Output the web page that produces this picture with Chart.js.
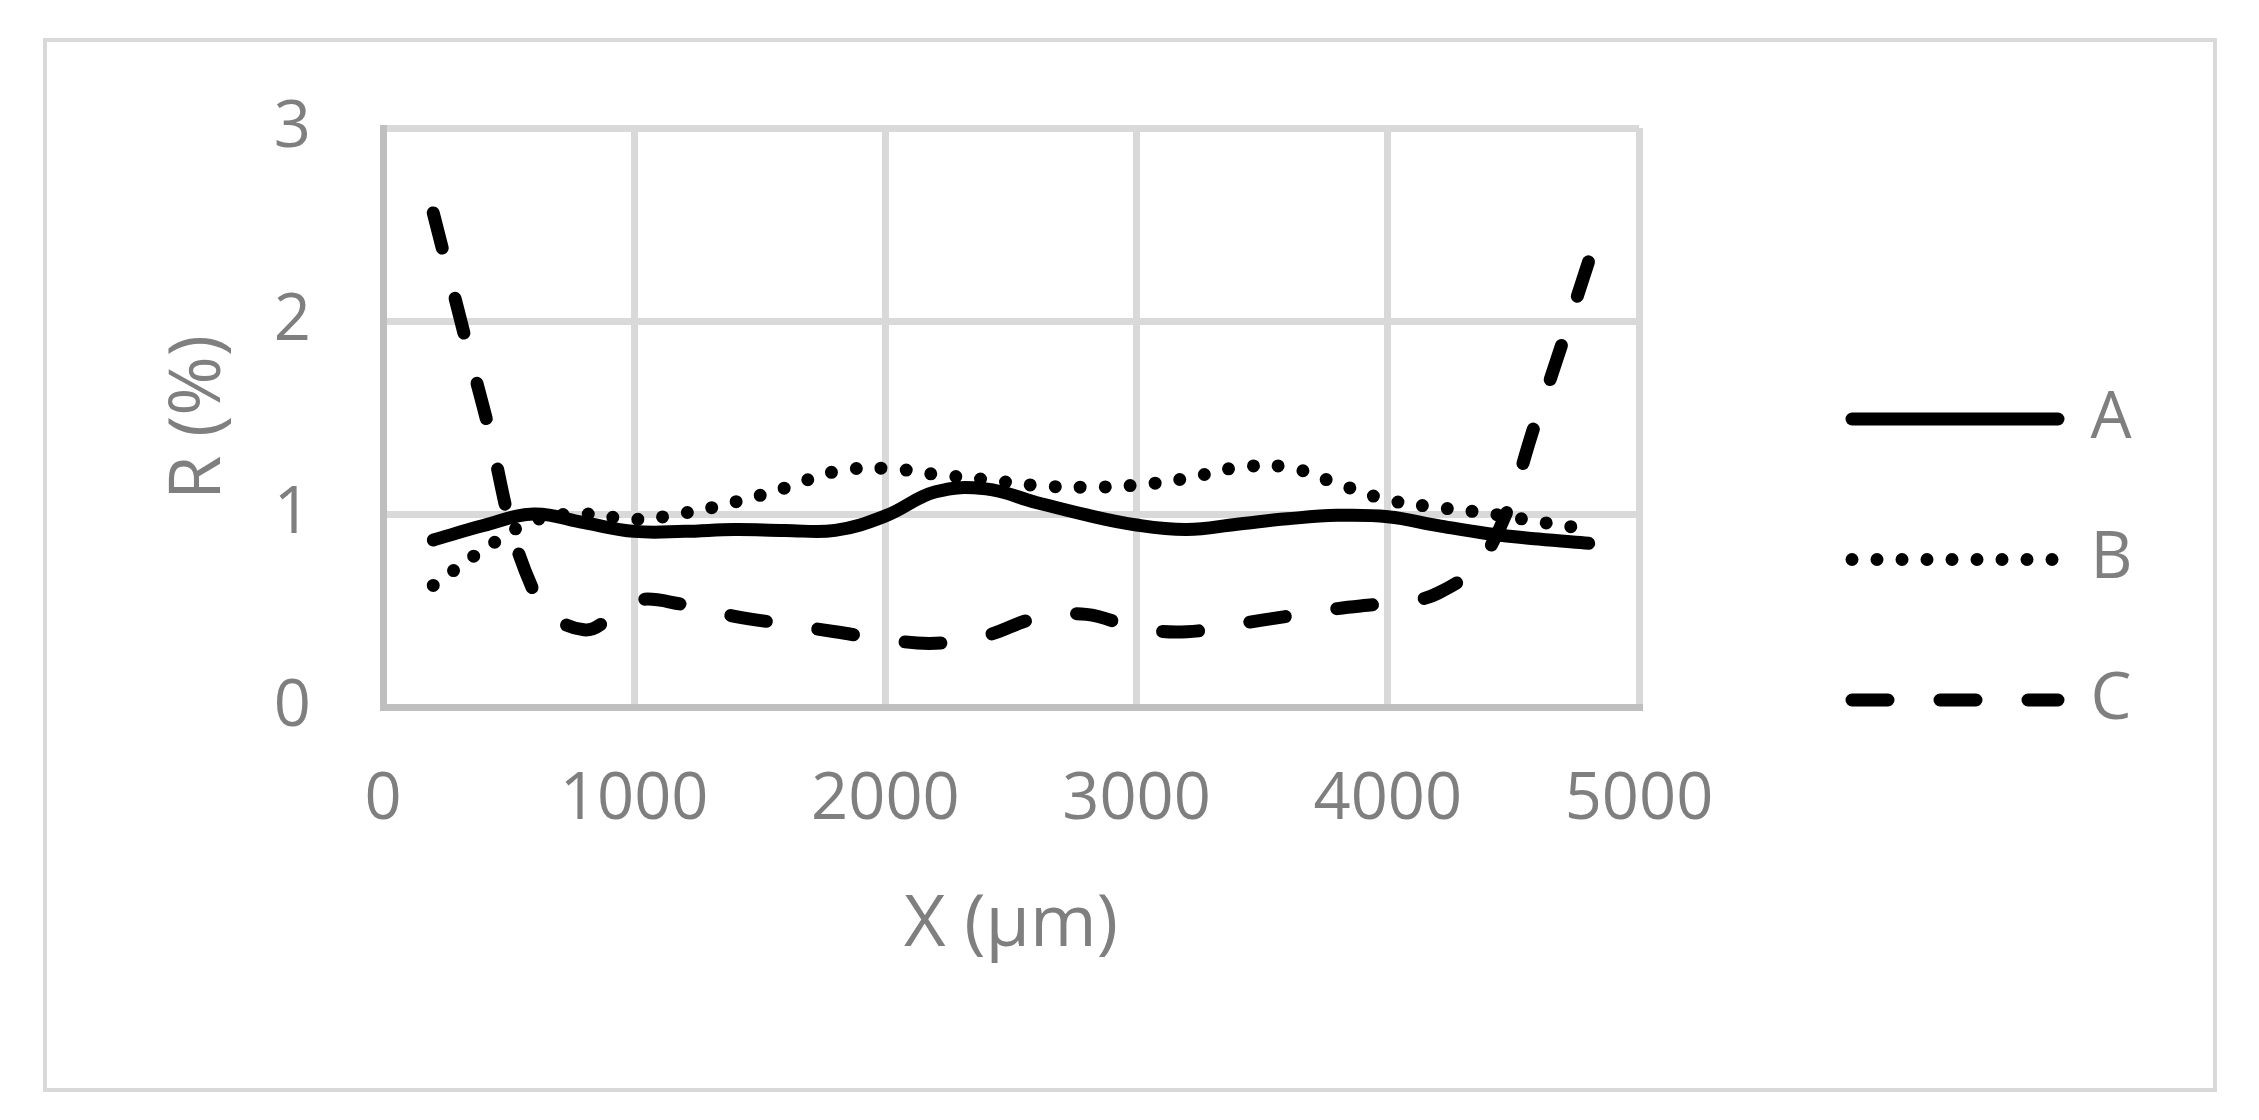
<!DOCTYPE html>
<html lang="en">

<head>
  <meta charset="UTF-8" />
  <title>R (%) vs X (µm)</title>
  <script src="https://cdn.jsdelivr.net/npm/chart.js"></script>
  <style>
    body { margin: 0; background: #fff; }
    #moldura {
      position: absolute; left: 43px; top: 38px;
      width: 2174px; height: 1054px;
      box-sizing: border-box; border: 4px solid #d9d9d9;
    }
    #grafico { position: absolute; left: 0; top: 0; }
  </style>
</head>

<body>
  <div id="moldura"></div>
  <canvas id="grafico" width="2259" height="1120"></canvas>

  <script>
    // posicoes X (um) e valores R (%)
    var posicoesX = [200, 400, 600, 800, 1000, 1200, 1400, 1600, 1800, 2000, 2200, 2400,
      2600, 2800, 3000, 3200, 3400, 3600, 3800, 4000, 4200, 4400, 4600, 4800];

    var serieA = [0.865, 0.94, 1.0, 0.955, 0.91, 0.91, 0.92, 0.915, 0.915, 0.99, 1.115, 1.13,
      1.06, 0.995, 0.943, 0.92, 0.947, 0.975, 0.993, 0.986, 0.94, 0.898, 0.87, 0.848];

    var serieB = [0.63, 0.815, 0.965, 1.0, 0.972, 1.005, 1.062, 1.135, 1.22, 1.237, 1.205, 1.178,
      1.148, 1.139, 1.15, 1.185, 1.24, 1.243, 1.157, 1.073, 1.034, 1.003, 0.96, 0.92];

    var serieC = [2.56, 1.55, 0.6, 0.4, 0.55, 0.53, 0.47, 0.43, 0.39, 0.35, 0.33, 0.37,
      0.46, 0.48, 0.41, 0.39, 0.43, 0.47, 0.51, 0.54, 0.59, 0.81, 1.52, 2.31];

    var nomesSeries = ["A", "B", "C"];
    var ticksX = [0, 1000, 2000, 3000, 4000, 5000];
    var ticksY = [0, 1, 2, 3];

    var cinzaTexto = "#7f7f7f";

    function pontos(valores) {
      return posicoesX.map(function (x, i) {
        return { x: x, y: valores[i] };
      });
    }

    // empurra a legenda para a direita / para cima (como no Excel)
    var ajusteLegenda = {
      id: "ajusteLegenda",
      afterLayout: function (chart) {
        var lg = chart.legend;
        lg.left += 137.5;
        lg.right = chart.width;
        lg.top -= 64.5;
        lg.bottom -= 64.5;
      },
    };

    Chart.defaults.font.family = "'Open Sans', sans-serif";
    Chart.defaults.color = cinzaTexto;

    new Chart(grafico, {
      type: "line",
      data: {
        datasets: [
          {
            label: nomesSeries[0],
            data: pontos(serieA),
            borderColor: "#000",
            borderWidth: 13,
            borderCapStyle: "round",
            borderDash: [],
          },
          {
            label: nomesSeries[1],
            data: pontos(serieB),
            borderColor: "#000",
            borderWidth: 13,
            borderCapStyle: "round",
            borderDash: [0, 25],
          },
          {
            label: nomesSeries[2],
            data: pontos(serieC),
            borderColor: "#000",
            borderWidth: 13,
            borderCapStyle: "round",
            borderDash: [36, 52],
          },
        ],
      },
      options: {
        responsive: false,
        animation: false,
        devicePixelRatio: 1,
        tension: 0.4,
        pointRadius: 0,
        layout: {
          padding: { left: 0, top: 128, right: 320, bottom: 0 },
        },
        plugins: {
          tooltip: { enabled: false },
          legend: {
            position: "right",
            maxWidth: 300,
            labels: {
              usePointStyle: true,
              pointStyleWidth: 206,
              padding: 75.5,
              color: cinzaTexto,
              font: { size: 65 },
              generateLabels: function (chart) {
                return chart.data.datasets.map(function (ds, i) {
                  return {
                    text: ds.label,
                    fillStyle: ds.borderColor,
                    strokeStyle: ds.borderColor,
                    lineWidth: ds.borderWidth,
                    lineDash: ds.borderDash,
                    lineCap: ds.borderCapStyle,
                    pointStyle: "line",
                    fontColor: cinzaTexto,
                    datasetIndex: i,
                  };
                });
              },
            },
          },
        },
        scales: {
          x: {
            type: "linear",
            min: ticksX[0],
            max: ticksX[ticksX.length - 1],
            afterBuildTicks: function (s) {
              s.ticks = ticksX.map(function (v) { return { value: v }; });
            },
            afterFit: function (s) { s.height = 413; },
            grid: { color: "#d9d9d9", lineWidth: 7, drawTicks: false },
            border: { color: "#bfbfbf", width: 7 },
            ticks: {
              padding: 54,
              maxRotation: 0,
              font: { size: 65 },
              color: cinzaTexto,
              callback: function (v) { return String(v); },
            },
            title: {
              display: true,
              text: "X (µm)",
              font: { size: 72 },
              color: cinzaTexto,
              padding: { top: 0, bottom: 151 },
            },
          },
          y: {
            min: ticksY[0],
            max: ticksY[ticksY.length - 1],
            afterBuildTicks: function (s) {
              s.ticks = ticksY.map(function (v) { return { value: v }; });
            },
            afterFit: function (s) { s.width = 383; },
            grid: { color: "#d9d9d9", lineWidth: 7, drawTicks: false },
            border: { color: "#bfbfbf", width: 7 },
            ticks: {
              padding: 72,
              font: { size: 65 },
              color: cinzaTexto,
              callback: function (v) { return String(v); },
            },
            title: {
              display: true,
              text: "R (%)",
              font: { size: 72 },
              color: cinzaTexto,
              padding: { top: 156, bottom: 0 },
            },
          },
        },
      },
      plugins: [ajusteLegenda],
    });
  </script>
</body>

</html>
